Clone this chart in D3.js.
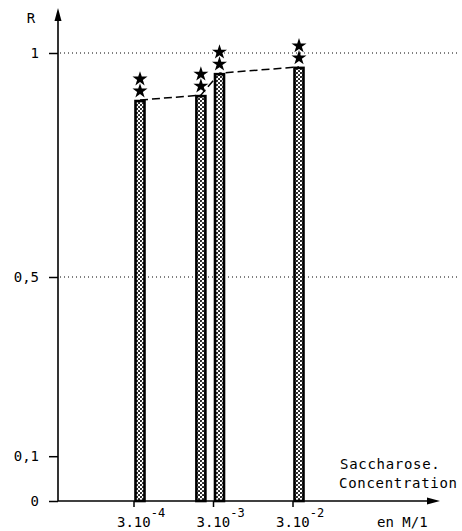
<!DOCTYPE html>
<html><head><meta charset="utf-8">
<script src="https://cdn.jsdelivr.net/npm/d3@7"></script>
<style>body{margin:0;background:#fff}svg{display:block}text{font-family:"DejaVu Sans Mono",monospace;fill:#000}</style>
</head><body><svg id="c" width="462" height="531"></svg>
<script>
const concentrations = [3e-4, 1.75e-3, 3e-3, 3e-2];
const ratioR = [0.895, 0.906, 0.955, 0.969];
const yTicks = [0, 0.1, 0.5, 1];
const xTicks = [3e-4, 3e-3, 3e-2];
const xTickExp = ["-4", "-3", "-2"];
const gridValues = [1, 0.5];

const svg = d3.select("#c");
const axisX0 = 58, axisXEnd = 440, axisYTop = 8;
const y = d3.scaleLinear().domain([0, 1]).range([501, 53]);
const x = d3.scaleLog().domain([3e-4, 3e-2]).range([134, 293]);
const barW = 12;

// pattern
const defs = svg.append("defs");
const pat = defs.append("pattern").attr("id","dots").attr("patternUnits","userSpaceOnUse").attr("width",4).attr("height",4);
pat.append("rect").attr("width",4).attr("height",4).attr("fill","#fff");
pat.append("circle").attr("cx",1).attr("cy",1).attr("r",1.05).attr("fill","#111");
pat.append("circle").attr("cx",3).attr("cy",3).attr("r",1.05).attr("fill","#111");

// grid
svg.selectAll(".grid").data(gridValues).join("line")
  .attr("x1", axisX0+2).attr("x2", 460).attr("y1", d=>y(d)).attr("y2", d=>y(d))
  .attr("stroke","#000").attr("stroke-width",1).attr("stroke-dasharray","1,3");

// y axis
const fmt = d3.formatLocale({decimal:",",thousands:" ",grouping:[3],currency:["",""]}).format("~g");
const yAxis = svg.append("g").attr("transform",`translate(${axisX0},0)`)
  .call(d3.axisLeft(y).tickValues(yTicks).tickSize(9).tickPadding(10).tickFormat(d=>fmt(d)));
yAxis.select(".domain").remove();
yAxis.selectAll("line").attr("stroke","#000").attr("stroke-width",1.5);
yAxis.selectAll("text").attr("font-size",14).attr("font-family","DejaVu Sans Mono").attr("fill","#000");
svg.append("line").attr("x1",axisX0).attr("x2",axisX0).attr("y1",501).attr("y2",axisYTop+8).attr("stroke","#000").attr("stroke-width",1.6);
svg.append("path").attr("d",`M${axisX0},${axisYTop} L${axisX0-3.5},${axisYTop+13} L${axisX0+3.5},${axisYTop+13} Z`).attr("fill","#000");
svg.append("text").attr("x",31).attr("y",23).attr("font-size",14).attr("text-anchor","middle").text("R");

// x axis
svg.append("line").attr("x1",axisX0).attr("x2",axisXEnd-8).attr("y1",501).attr("y2",501).attr("stroke","#000").attr("stroke-width",1.6);
svg.append("path").attr("d",`M${axisXEnd},501 L${axisXEnd-13},497.5 L${axisXEnd-13},504.5 Z`).attr("fill","#000");
const xt = svg.append("g").selectAll("g").data(xTicks).join("g").attr("transform",d=>`translate(${x(d)},501)`);
xt.append("line").attr("y1",0).attr("y2",6).attr("stroke","#000").attr("stroke-width",1.5);
xt.append("text").attr("x",-17).attr("y",26).attr("font-size",14).text("3.10")
  .append("tspan").attr("dy",-10).attr("font-size",12).text((d,i)=>xTickExp[i]);

// dashed line
svg.append("path").datum(concentrations.map((c,i)=>[x(c)+barW/2, y(ratioR[i])]))
  .attr("d", d3.line()).attr("fill","none").attr("stroke","#000").attr("stroke-width",1.5).attr("stroke-dasharray","8,4");

// bars
svg.selectAll(".bar").data(concentrations).join("rect")
  .attr("x", d=>x(d)+1.5).attr("width", barW-3)
  .attr("y", (d,i)=>y(ratioR[i])+1).attr("height",(d,i)=>y(0)-y(ratioR[i])-1)
  .attr("fill","url(#dots)").attr("stroke","#000").attr("stroke-width",2.6);

// stars
const star = d3.symbol().type(d3.symbolStar).size(70);
concentrations.forEach((c,i)=>{
  [9, 21].forEach(off=>{
    svg.append("path").attr("d",star()).attr("fill","#000")
      .attr("transform",`translate(${x(c)+barW/2},${y(ratioR[i])-off})`);
  });
});

// labels
svg.append("text").attr("x",340).attr("y",469).attr("font-size",14).attr("letter-spacing",0.7).text("Saccharose.");
svg.append("text").attr("x",339).attr("y",488).attr("font-size",14).attr("letter-spacing",0.7).text("Concentration");
svg.append("text").attr("x",377).attr("y",527).attr("font-size",14).text("en M/1");
</script></body></html>
